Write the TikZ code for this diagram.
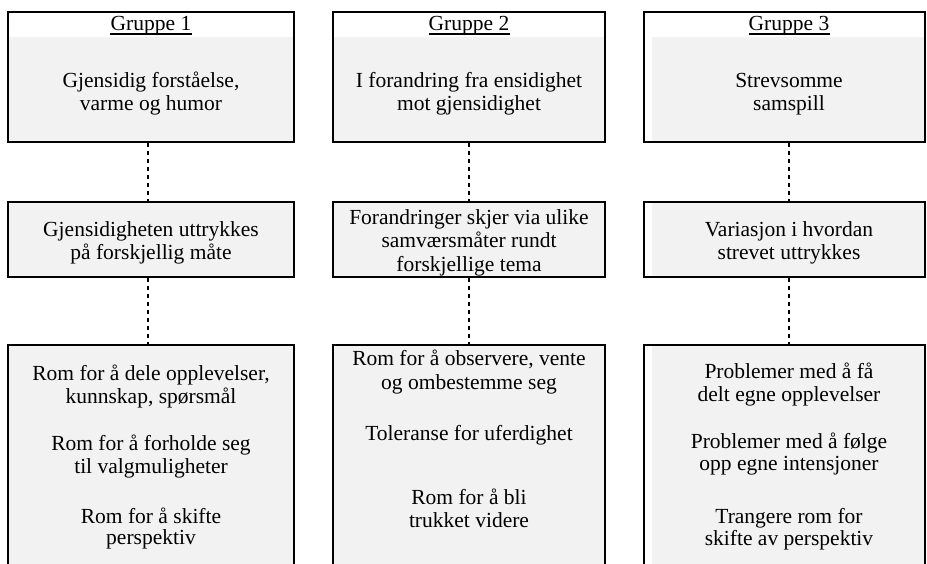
\documentclass[tikz,border=0pt]{standalone}
\usepackage{fontspec}
\setmainfont{Liberation Serif}
\definecolor{boxgray}{RGB}{242,242,242}
\tikzset{
  x=1pt, y=-1pt,
  box/.style={draw=black, line width=1.9pt, fill=boxgray, rectangle, inner sep=0pt},
  hdr/.style={path picture={\fill[white] (path picture bounding box.north west) rectangle ([yshift=-25pt]path picture bounding box.north east);}},
  lstrip/.style={path picture={\fill[white] (path picture bounding box.north west) rectangle ([xshift=8pt]path picture bounding box.south west);}},
  hdrstrip/.style={path picture={\fill[white] (path picture bounding box.north west) rectangle ([yshift=-25pt]path picture bounding box.north east);
     \fill[white] (path picture bounding box.north west) rectangle ([xshift=8pt]path picture bounding box.south west);}},
  txt/.style={font=\fontsize{21.5}{23.3}\selectfont, anchor=base, inner sep=0pt, yshift=-2.5pt},
  head/.style={font=\fontsize{21.5}{23.3}\selectfont, anchor=base, inner sep=0pt},
  link/.style={line width=2pt, dash pattern=on 4pt off 4pt},
  uline/.style={line width=1.1pt},
}
\begin{document}
\begin{tikzpicture}
\useasboundingbox (0,0) rectangle (927,564);
\clip (0,0) rectangle (927,564);
\fill[white] (0,0) rectangle (927,564);
% top row
\node[box, hdr, minimum width=286pt, minimum height=130pt] (T1) at (151,77) {};
\node[box, hdr, minimum width=272pt, minimum height=130pt] (T2) at (469,77) {};
\node[box, hdrstrip, minimum width=281pt, minimum height=130pt] (T3) at (784.5,77) {};
% middle row
\node[box, minimum width=286pt, minimum height=75pt] (M1) at (151,239.5) {};
\node[box, minimum width=272pt, minimum height=75pt] (M2) at (469,239.5) {};
\node[box, lstrip, minimum width=281pt, minimum height=75pt] (M3) at (784.5,239.5) {};
% bottom row
\node[box, minimum width=286pt, minimum height=235pt] (B1) at (151,462.5) {};
\node[box, minimum width=272pt, minimum height=235pt] (B2) at (469,462.5) {};
\node[box, lstrip, minimum width=281pt, minimum height=235pt] (B3) at (784.5,462.5) {};
% connectors
\draw[link] ([xshift=-3pt]T1.south) -- ([xshift=-3pt]M1.north);
\draw[link] ([xshift=-3pt]M1.south) -- ([xshift=-3pt]B1.north);
\draw[link] (T2.south) -- (M2.north);
\draw[link] (M2.south) -- (B2.north);
\draw[link] ([xshift=4.5pt]T3.south) -- ([xshift=4.5pt]M3.north);
\draw[link] ([xshift=4.5pt]M3.south) -- ([xshift=4.5pt]B3.north);
% headers
\node[head] (g1) at (151,31) {Gruppe 1};
\node[head] (g2) at (469,31) {Gruppe 2};
\node[head] (g3) at (789,31) {Gruppe 3};
\draw[uline] ([yshift=-3pt]g1.base west) -- ([yshift=-3pt]g1.base east);
\draw[uline] ([yshift=-3pt]g2.base west) -- ([yshift=-3pt]g2.base east);
\draw[uline] ([yshift=-3pt]g3.base west) -- ([yshift=-3pt]g3.base east);
% top texts
\node[txt] (t1a) at (151,85) {Gjensidig forståelse,};
\node[txt] (t1b) at (151,108) {varme og humor};
\node[txt] (t2a) at (469,85) {I forandring fra ensidighet};
\node[txt] (t2b) at (469,108) {mot gjensidighet};
\node[txt] (t3a) at (789,85) {Strevsomme};
\node[txt] (t3b) at (789,108) {samspill};
% middle texts
\node[txt] (m1a) at (151,234) {Gjensidigheten uttrykkes};
\node[txt] (m1b) at (151,257) {på forskjellig måte};
\node[txt] (m2a) at (469,222) {Forandringer skjer via ulike};
\node[txt] (m2b) at (469,245.5) {samværsmåter rundt};
\node[txt] (m2c) at (469,269) {forskjellige tema};
\node[txt] (m3a) at (789,234) {Variasjon i hvordan};
\node[txt] (m3b) at (789,257) {strevet uttrykkes};
% bottom texts col 1
\node[txt] (b1a) at (151,377.5) {Rom for å dele opplevelser,};
\node[txt] (b1b) at (151,400.5) {kunnskap, spørsmål};
\node[txt] (b1c) at (151,448) {Rom for å forholde seg};
\node[txt] (b1d) at (151,471) {til valgmuligheter};
\node[txt] (b1e) at (151,520.5) {Rom for å skifte};
\node[txt] (b1f) at (151,542) {perspektiv};
% col 2
\node[txt] (b2a) at (469,363) {Rom for å observere, vente};
\node[txt] (b2b) at (469,387) {og ombestemme seg};
\node[txt] (b2c) at (469,438) {Toleranse for uferdighet};
\node[txt] (b2d) at (469,502) {Rom for å bli};
\node[txt] (b2e) at (469,525) {trukket videre};
% col 3
\node[txt] (b3a) at (789,376) {Problemer med å få};
\node[txt] (b3b) at (789,399) {delt egne opplevelser};
\node[txt] (b3c) at (789,446) {Problemer med å følge};
\node[txt] (b3d) at (789,468) {opp egne intensjoner};
\node[txt] (b3e) at (789,521) {Trangere rom for};
\node[txt] (b3f) at (789,543) {skifte av perspektiv};
\end{tikzpicture}
\end{document}
